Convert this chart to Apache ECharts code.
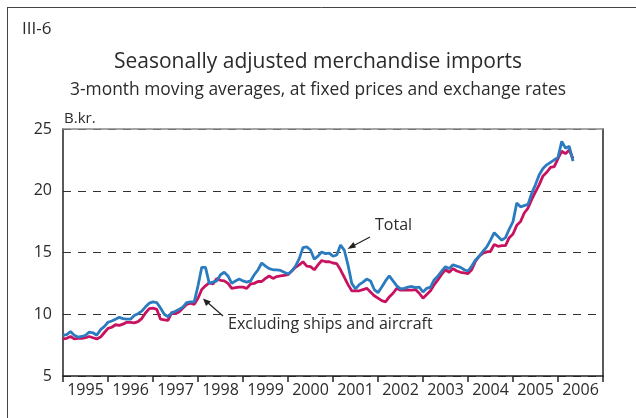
<!DOCTYPE html>
<html>
<head>
<meta charset="utf-8">
<script src="https://cdn.jsdelivr.net/npm/echarts@6/dist/echarts.min.js"></script>
<style>
  html, body { margin: 0; padding: 0; background: #fff; }
  #chart { width: 636px; height: 418px; }
</style>
</head>
<body>
<div id="chart"></div>
<script>
// monthly values, Jan 1995 onwards (B.kr.)
const startYear = 1995;
const yearLabels = ['1995', '1996', '1997', '1998', '1999', '2000', '2001', '2002', '2003', '2004', '2005', '2006'];
const yTicks = [5, 10, 15, 20, 25];

const total = [
  8.3, 8.35, 8.6, 8.3, 8.15, 8.2, 8.3, 8.55, 8.5, 8.3, 8.75, 9.0,
  9.35, 9.45, 9.6, 9.75, 9.65, 9.6, 9.6, 9.9, 10.05, 10.25, 10.6, 10.9,
  11.0, 10.95, 10.5, 10.0, 9.8, 10.1, 10.25, 10.4, 10.6, 10.95, 11.0, 11.0,
  12.3, 13.8, 13.8, 12.5, 12.6, 12.7, 13.2, 13.4, 13.1, 12.5, 12.7, 12.85,
  12.7, 12.6, 12.7, 13.2, 13.6, 14.15, 13.9, 13.7, 13.6, 13.6, 13.55, 13.4,
  13.25, 13.5, 13.9, 14.5, 15.4, 15.45, 15.2, 14.45, 14.7, 15.05, 14.9, 14.95,
  14.7, 14.8, 15.6, 15.2, 14.0, 12.5, 12.05, 12.4, 12.6, 12.85, 12.7, 12.0,
  11.75, 12.2, 12.7, 13.1, 12.7, 12.3, 12.05, 12.1, 12.2, 12.25, 12.15, 12.2,
  11.8, 12.1, 12.2, 12.8, 13.1, 13.5, 13.85, 13.7, 14.0, 13.9, 13.8, 13.6,
  13.5, 13.9, 14.4, 14.7, 15.1, 15.45, 16.0, 16.6, 16.3, 16.0, 16.2, 16.9,
  17.5, 19.0, 18.7, 18.8, 18.9, 19.8, 20.5, 21.3, 21.8, 22.1, 22.3, 22.5,
  22.7, 24.0, 23.45, 23.6, 22.4
];

const exclShips = [
  8.0, 8.05, 8.2, 8.0, 8.05, 8.05, 8.1, 8.2, 8.1, 8.0, 8.15, 8.5,
  8.85, 8.95, 9.15, 9.1, 9.2, 9.35, 9.35, 9.3, 9.4, 9.65, 10.1, 10.45,
  10.5, 10.4, 9.6, 9.55, 9.5, 10.15, 10.05, 10.2, 10.5, 10.8, 10.9, 10.8,
  11.3, 12.0, 12.3, 12.55, 12.45, 12.9, 12.75, 12.7, 12.5, 12.1, 12.15, 12.2,
  12.2, 12.1, 12.45, 12.5, 12.65, 12.65, 12.9, 13.1, 12.9, 13.05, 13.1, 13.15,
  13.2, 13.5, 13.8, 14.0, 14.25, 13.9, 13.85, 13.6, 14.0, 14.35, 14.25, 14.25,
  14.15, 14.1, 13.6, 13.0, 12.4, 11.9, 11.9, 11.9, 12.0, 12.1, 11.8, 11.5,
  11.3, 11.1, 11.0, 11.4, 11.7, 12.1, 11.95, 11.95, 11.95, 11.95, 12.0, 11.7,
  11.3, 11.6, 11.9, 12.4, 12.8, 13.25, 13.6, 13.4, 13.7, 13.5, 13.4, 13.35,
  13.3, 13.6, 14.3, 14.7, 14.95, 15.05, 15.1, 15.65, 15.5, 15.55, 15.55, 16.2,
  16.5, 17.2, 17.5, 18.2, 18.6, 19.3, 19.9, 20.5, 21.2, 21.5, 21.9, 21.95,
  22.6, 23.2, 23.0, 23.3, 22.6
];

const toPoints = (arr) => arr.map((v, i) => [startYear + i / 12, v]);

const FONT = 'Open Sans';
const TXT = '#2b2b2b';

const chart = echarts.init(document.getElementById('chart'));

const option = {
  animation: false,
  textStyle: { fontFamily: FONT },
  title: [
    { text: 'III-6', left: 17, top: 16, textStyle: { fontSize: 17, fontWeight: 'normal', color: TXT } },
    { text: 'Seasonally adjusted merchandise imports', left: 'center', top: 47, textStyle: { fontSize: 21, fontWeight: 'normal', color: TXT } },
    { text: '3-month moving averages, at fixed prices and exchange rates', left: 'center', top: 77, textStyle: { fontSize: 17.4, fontWeight: 'normal', color: TXT } }
  ],
  grid: { left: 63, right: 33, top: 129, bottom: 42 },
  xAxis: [
    {
      // year boundaries with ticks
      type: 'value', min: 1995, max: 2007, interval: 1, position: 'bottom',
      axisLine: { show: true, lineStyle: { color: '#222', width: 1.5 } },
      axisTick: { show: true, inside: false, length: 6, lineStyle: { color: '#222', width: 1.5 } },
      axisLabel: { show: false },
      splitLine: { show: false }
    },
    {
      // labels centred in each year (half-year units)
      type: 'value', min: 0, max: 24, interval: 1, position: 'bottom',
      axisLine: { show: false }, axisTick: { show: false }, splitLine: { show: false },
      axisLabel: {
        show: true, margin: 6, fontSize: 16, color: TXT, fontFamily: FONT,
        formatter: (v) => (v % 2 === 1 ? yearLabels[(v - 1) / 2] : '')
      }
    },
    {
      // top frame
      type: 'value', min: 1995, max: 2007, position: 'top',
      axisLine: { show: true, lineStyle: { color: '#888', width: 1.5 } },
      axisTick: { show: false }, axisLabel: { show: false }, splitLine: { show: false }
    }
  ],
  yAxis: [
    {
      type: 'value', min: yTicks[0], max: yTicks[yTicks.length - 1], interval: 5, position: 'left',
      axisLine: { show: true, lineStyle: { color: '#222', width: 1.5 } },
      axisTick: { show: false },
      axisLabel: { fontSize: 16, color: TXT, margin: 11, fontFamily: FONT },
      splitLine: { show: true, lineStyle: { color: '#333', width: 1.2, type: [8, 7] } }
    },
    {
      type: 'value', min: yTicks[0], max: yTicks[yTicks.length - 1], interval: 5, position: 'right',
      axisLine: { show: true, lineStyle: { color: '#222', width: 1.5 } },
      axisTick: { show: false }, axisLabel: { show: false }, splitLine: { show: false }
    }
  ],
  series: [
    {
      name: 'Excluding ships and aircraft', type: 'line', xAxisIndex: 0, yAxisIndex: 0,
      data: toPoints(exclShips), showSymbol: false, symbol: 'none',
      lineStyle: { color: '#c8125f', width: 2.8 }, z: 3
    },
    {
      name: 'Total', type: 'line', xAxisIndex: 0, yAxisIndex: 0,
      data: toPoints(total), showSymbol: false, symbol: 'none',
      lineStyle: { color: '#2a7bc0', width: 2.8 }, z: 4
    }
  ],
  graphic: [
    // outer frame
    { type: 'line', shape: { x1: 7, y1: 7.5, x2: 636, y2: 7.5 }, style: { stroke: '#444', lineWidth: 1 } },
    { type: 'line', shape: { x1: 7.5, y1: 7, x2: 7.5, y2: 418 }, style: { stroke: '#444', lineWidth: 1 } },
    { type: 'text', left: 64, top: 111, style: { text: 'B.kr.', fontSize: 15, fill: TXT, fontFamily: FONT } },
    // annotations
    { type: 'text', left: 375, top: 217, style: { text: 'Total', fontSize: 16, fill: TXT, fontFamily: FONT } },
    { type: 'line', shape: { x1: 370, y1: 237, x2: 352, y2: 246.5 }, style: { stroke: '#222', lineWidth: 1.2 } },
    { type: 'polygon', shape: { points: [[347.5, 249], [353.5, 242], [356, 247.5]] }, style: { fill: '#222' } },
    { type: 'text', left: 228, top: 316, style: { text: 'Excluding ships and aircraft', fontSize: 16, fill: TXT, fontFamily: FONT } },
    { type: 'line', shape: { x1: 223, y1: 316, x2: 207, y2: 302 }, style: { stroke: '#222', lineWidth: 1.2 } },
    { type: 'polygon', shape: { points: [[203, 298.5], [211, 301.5], [206, 306]] }, style: { fill: '#222' } }
  ]
};

chart.setOption(option);
</script>
</body>
</html>
